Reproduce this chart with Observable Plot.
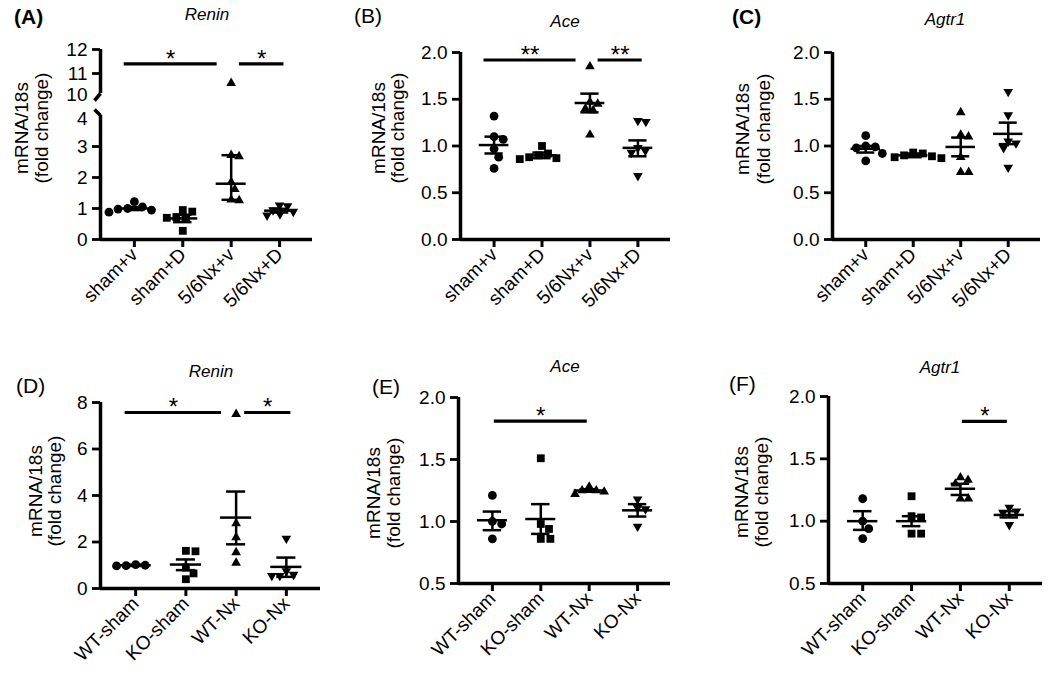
<!DOCTYPE html>
<html><head><meta charset="utf-8">
<script src="https://cdn.jsdelivr.net/npm/d3@7"></script>
<script src="https://cdn.jsdelivr.net/npm/@observablehq/plot@0.6"></script>
<style>
body{margin:0;background:#fff;}
#chart{position:relative;width:1050px;height:677px;overflow:hidden;font-family:"Liberation Sans",Arial,sans-serif;}
.seg{position:absolute;}
#overlay{position:absolute;left:0;top:0;}
</style></head><body><div id="chart"></div>
<script>
// ---------------- DATA ----------------
const groupsTop = ["sham+v", "sham+D", "5/6Nx+v", "5/6Nx+D"];
const groupsBottom = ["WT-sham", "KO-sham", "WT-Nx", "KO-Nx"];

// (A) Renin, 5/6Nx
const reninA_shamV = [1.22, 1.05, 1.0, 0.98, 0.95, 0.88];
const reninA_shamD = [0.95, 0.9, 0.72, 0.7, 0.66, 0.28];
const reninA_nxV   = [10.6, 2.72, 2.68, 1.85, 1.62, 1.28, 1.26];
const reninA_nxD   = [1.1, 1.08, 0.95, 0.9, 0.82, 0.78];
const reninA_center = [1.0, 0.68, 1.8, 0.93];
const reninA_lo     = [0.95, 0.56, 1.28, 0.87];
const reninA_hi     = [1.05, 0.8, 2.72, 0.99];
const reninA_sig    = [[0, 2, 11.4, "*"], [2, 3, 11.4, "*"]];

// (B) Ace, 5/6Nx
const aceB_shamV = [1.32, 1.10, 1.07, 0.97, 0.88, 0.76];
const aceB_shamD = [1.0, 0.92, 0.9, 0.88, 0.87, 0.86];
const aceB_nxV   = [1.85, 1.47, 1.45, 1.40, 1.38, 1.12];
const aceB_nxD   = [1.27, 1.26, 0.98, 0.95, 0.93, 0.68];
const aceB_center = [1.01, 0.9, 1.46, 0.98];
const aceB_lo     = [0.92, 0.87, 1.36, 0.89];
const aceB_hi     = [1.10, 0.93, 1.56, 1.06];
const aceB_sig    = [[0, 2, 1.92, "**"], [2, 3, 1.92, "**"]];

// (C) Agtr1, 5/6Nx
const agtrC_shamV = [1.11, 1.0, 0.99, 0.98, 0.92, 0.84];
const agtrC_shamD = [0.93, 0.92, 0.9, 0.89, 0.88, 0.87];
const agtrC_nxV   = [1.36, 1.12, 1.1, 0.88, 0.72, 0.72];
const agtrC_nxD   = [1.58, 1.33, 1.05, 1.03, 0.98, 0.77];
const agtrC_center = [0.97, 0.9, 0.99, 1.13];
const agtrC_lo     = [0.93, 0.88, 0.89, 1.02];
const agtrC_hi     = [1.0, 0.92, 1.09, 1.25];
const agtrC_sig    = [];

// (D) Renin, KO
const reninD_wtSham = [1.03, 1.0, 0.98, 0.97];
const reninD_koSham = [1.62, 1.6, 0.9, 0.65, 0.4];
const reninD_wtNx   = [7.5, 2.8, 2.2, 1.55, 1.1];
const reninD_koNx   = [2.15, 0.75, 0.6, 0.55, 0.55];
const reninD_center = [1.0, 1.03, 3.05, 0.93];
const reninD_lo     = [0.97, 0.79, 1.9, 0.5];
const reninD_hi     = [1.03, 1.25, 4.17, 1.33];
const reninD_sig    = [[0, 2, 7.57, "*"], [2, 3, 7.57, "*"]];

// (E) Ace, KO
const aceE_wtSham = [1.21, 1.0, 0.98, 0.86];
const aceE_koSham = [1.51, 0.98, 0.94, 0.86, 0.86];
const aceE_wtNx   = [1.28, 1.25, 1.25, 1.24, 1.22];
const aceE_koNx   = [1.18, 1.11, 1.1, 0.96];
const aceE_center = [1.01, 1.02, 1.25, 1.09];
const aceE_lo     = [0.93, 0.9, 1.24, 1.04];
const aceE_hi     = [1.08, 1.14, 1.26, 1.14];
const aceE_sig    = [[0, 2, 1.81, "*"]];

// (F) Agtr1, KO
const agtrF_wtSham = [1.18, 1.0, 0.94, 0.86];
const agtrF_koSham = [1.2, 1.04, 1.03, 0.9, 0.9];
const agtrF_wtNx   = [1.35, 1.33, 1.3, 1.18, 1.18];
const agtrF_koNx   = [1.11, 1.08, 1.07, 0.97];
const agtrF_center = [1.0, 1.0, 1.26, 1.05];
const agtrF_lo     = [0.93, 0.96, 1.21, 1.03];
const agtrF_hi     = [1.08, 1.04, 1.3, 1.08];
const agtrF_sig    = [[2, 3, 1.80, "*"]];

// ---------------- LAYOUT ----------------
const FONT = '"Liberation Sans", Arial, Helvetica, sans-serif';
const XDOM = [-0.7, 3.68];
const sqrt3 = Math.sqrt(3);
const invTriangle = {draw(ctx, size) {
  const y = -Math.sqrt(size / (sqrt3 * 3));
  ctx.moveTo(0, -y * 2); ctx.lineTo(-sqrt3 * y, y); ctx.lineTo(sqrt3 * y, y); ctx.closePath();
}};
const SYMBOLS = [d3.symbolCircle, d3.symbolSquare, d3.symbolTriangle, invTriangle];
const RADII = [4.4, 4.4, 3.6, 3.6];
const f1 = d3.format(".1f"), f0 = d3.format("d");

const panels = [
  {groups: groupsTop, series: [reninA_shamV, reninA_shamD, reninA_nxV, reninA_nxD],
   center: reninA_center, lo: reninA_lo, hi: reninA_hi, sig: reninA_sig, axisX: 100, right: 312, fmt: f0,
   segments: [
     {yDomain: [10, 12], labels: [11, 12], shifted: [10], shift: -3, marks: [11, 12], top: 49, bottom: 97, showX: false, breakBelow: true},
     {yDomain: [0, 4], labels: [0, 1, 2, 3], shifted: [4], shift: 3, marks: [0, 1, 2, 3], top: 115, bottom: 239, showX: true, breakAbove: true}]},
  {groups: groupsTop, series: [aceB_shamV, aceB_shamD, aceB_nxV, aceB_nxD],
   center: aceB_center, lo: aceB_lo, hi: aceB_hi, sig: aceB_sig, axisX: 460, right: 670, fmt: f1,
   segments: [{yDomain: [0, 2], labels: [0, 0.5, 1, 1.5, 2], marks: [0, 0.5, 1, 1.5, 2], top: 52, bottom: 239, showX: true}]},
  {groups: groupsTop, series: [agtrC_shamV, agtrC_shamD, agtrC_nxV, agtrC_nxD],
   center: agtrC_center, lo: agtrC_lo, hi: agtrC_hi, sig: agtrC_sig, axisX: 832, right: 1040, fmt: f1,
   segments: [{yDomain: [0, 2], labels: [0, 0.5, 1, 1.5, 2], marks: [0, 0.5, 1, 1.5, 2], top: 52, bottom: 239, showX: true}]},
  {groups: groupsBottom, series: [reninD_wtSham, reninD_koSham, reninD_wtNx, reninD_koNx],
   center: reninD_center, lo: reninD_lo, hi: reninD_hi, sig: reninD_sig, axisX: 100, right: 320, fmt: f0,
   segments: [{yDomain: [0, 8], labels: [0, 2, 4, 6, 8], marks: [0, 2, 4, 6, 8], top: 402, bottom: 588, showX: true}]},
  {groups: groupsBottom, series: [aceE_wtSham, aceE_koSham, aceE_wtNx, aceE_koNx],
   center: aceE_center, lo: aceE_lo, hi: aceE_hi, sig: aceE_sig, axisX: 458, right: 670, fmt: f1,
   segments: [{yDomain: [0.5, 2], labels: [0.5, 1, 1.5, 2], marks: [0.5, 1, 1.5, 2], top: 397, bottom: 583, showX: true}]},
  {groups: groupsBottom, series: [agtrF_wtSham, agtrF_koSham, agtrF_wtNx, agtrF_koNx],
   center: agtrF_center, lo: agtrF_lo, hi: agtrF_hi, sig: agtrF_sig, axisX: 828, right: 1042, fmt: f1,
   segments: [{yDomain: [0.5, 2], labels: [0.5, 1, 1.5, 2], marks: [0.5, 1, 1.5, 2], top: 396, bottom: 583, showX: true}]}
];

const chart = document.getElementById("chart");

function drawSegment(p, s) {
  const mL = 70, mR = 8, mT = 30, mB = s.showX ? 100 : 10;
  const fw = p.right - p.axisX, fh = s.bottom - s.top;
  const pxX = fw / (XDOM[1] - XDOM[0]);
  const [y0, y1] = s.yDomain;
  const pxY = fh / (y1 - y0);
  const inDom = v => v >= y0 && v <= y1;
  const dotMarks = p.series.map((vals, gi) => {
    const placed = [], pts = [];
    const D = 2 * RADII[gi] + 0.8;
    vals.filter(inDom).forEach(v => {
      const py = v * pxY;
      const cands = [0];
      for (const q of placed) {
        const dy = py - q.py;
        if (Math.abs(dy) < D) { const w = Math.sqrt(D * D - dy * dy); cands.push(q.px + w, q.px - w); }
      }
      cands.sort((a, b) => Math.abs(a) - Math.abs(b));
      const px = cands.find(c => placed.every(q => (c - q.px) ** 2 + (py - q.py) ** 2 >= D * D - 1e-6));
      placed.push({px, py});
      pts.push({x: gi + px / pxX, v});
    });
    return Plot.dot(pts, {x: "x", y: "v", r: RADII[gi], symbol: SYMBOLS[gi], fill: "black", stroke: "none"});
  });
  const summary = p.groups.map((g, i) => ({g: i, c: p.center[i], lo: p.lo[i], hi: p.hi[i]}))
    .filter(d => inDom(d.lo) && inDom(d.hi));
  const comps = p.sig.map(([a, b, y, label]) => {
    let c = (a + b) / 2;
    const half = (b - a) / 2 - 0.04;
    if (p.sig.some(o => o[0] === b)) c -= 0.25;
    if (p.sig.some(o => o[1] === a)) c += 0.13;
    return {x1: c - half, x2: c + half, xc: c, y, label};
  }).filter(d => inDom(d.y));
  const MEAN = 0.31, CAP = 0.19;
  const marks = [];
  // y axis line
  marks.push(Plot.ruleX([XDOM[0]], {y1: s.breakBelow ? y0 + 4 / pxY : y0, y2: y1, strokeWidth: 3.5}));
  if (s.breakBelow) marks.push(Plot.link([0], {x1: XDOM[0], y1: y0 + 4 / pxY, x2: XDOM[0] - 6 / pxX, y2: y0 - 3 / pxY, strokeWidth: 3.5}));
  if (s.breakAbove) marks.push(Plot.link([0], {x1: XDOM[0] - 6 / pxX, y1: y1 + 6 / pxY, x2: XDOM[0], y2: y1, strokeWidth: 3.5}));
  marks.push(Plot.axisY({ticks: s.labels, tickFormat: p.fmt, tickSize: 0, tickPadding: 13, fontSize: 19, label: null}));
  if (s.shifted) marks.push(Plot.axisY({ticks: s.shifted, tickFormat: p.fmt, tickSize: 0, tickPadding: 13, fontSize: 19, dy: s.shift, label: null}));
  marks.push(Plot.axisY({ticks: s.marks, tickFormat: () => "", tickSize: 8, strokeWidth: 2.8, label: null}));
  if (s.showX) {
    marks.push(Plot.ruleY([y0], {x1: XDOM[0], x2: XDOM[1], strokeWidth: 3.5}));
    marks.push(Plot.axisX({ticks: [0, 1, 2, 3], tickFormat: i => p.groups[i], tickSize: 8, tickPadding: 4,
      tickRotate: -45, fontSize: 19, strokeWidth: 3, label: null}));
  }
  marks.push(...dotMarks);
  marks.push(Plot.ruleX(summary, {x: "g", y1: "lo", y2: "hi", strokeWidth: 2.5}));
  marks.push(Plot.ruleY(summary, {y: "c", x1: d => d.g - MEAN, x2: d => d.g + MEAN, strokeWidth: 2.5}));
  marks.push(Plot.ruleY(summary, {y: "lo", x1: d => d.g - CAP, x2: d => d.g + CAP, strokeWidth: 2.5}));
  marks.push(Plot.ruleY(summary, {y: "hi", x1: d => d.g - CAP, x2: d => d.g + CAP, strokeWidth: 2.5}));
  marks.push(Plot.ruleY(comps, {y: "y", x1: "x1", x2: "x2", strokeWidth: 3.2}));
  marks.push(Plot.text(comps, {x: "xc", y: "y", text: "label", fontSize: 24, dy: -5, lineAnchor: "middle"}));

  const svg = Plot.plot({
    width: mL + fw + mR, height: mT + fh + mB,
    marginLeft: mL, marginRight: mR, marginTop: mT, marginBottom: mB,
    x: {domain: XDOM, axis: null}, y: {domain: s.yDomain, axis: null},
    style: {fontFamily: FONT, color: "black", background: "transparent", overflow: "visible"},
    marks
  });
  const div = document.createElement("div");
  div.className = "seg";
  div.style.left = (p.axisX - mL) + "px";
  div.style.top = (s.top - mT) + "px";
  div.appendChild(svg);
  chart.appendChild(div);
}

panels.forEach(p => p.segments.forEach(s => drawSegment(p, s)));

// ---------------- TEXT OVERLAY ----------------
const panelLetters = ["(A)", "(B)", "(C)", "(D)", "(E)", "(F)"];
const geneTitles = ["Renin", "Ace", "Agtr1", "Renin", "Ace", "Agtr1"];
const yTitle = ["mRNA/18s", "(fold change)"];

const letterPos = [[14, 24, 700], [354, 23, 400], [732, 24, 700], [16, 393, 400], [372, 394, 400], [729, 391, 400]];
const titlePos = [[207, 20], [565, 27], [945, 25], [211, 377], [565, 372], [940, 373]];
const yTitlePos = [[21, 41, 128], [378, 397, 128], [742, 763, 129], [35, 54, 491], [373, 393, 493], [741, 761, 492]];

const ov = d3.select("#chart").append("svg").attr("id", "overlay").attr("width", 1050).attr("height", 677)
  .style("font-family", FONT);
panelLetters.forEach((t, i) => {
  ov.append("text").attr("x", letterPos[i][0]).attr("y", letterPos[i][1])
    .attr("font-size", 21).attr("font-weight", letterPos[i][2]).text(t);
});
geneTitles.forEach((t, i) => {
  ov.append("text").attr("x", titlePos[i][0]).attr("y", titlePos[i][1]).attr("text-anchor", "middle")
    .attr("font-size", 17).attr("font-style", "italic").text(t);
});
yTitlePos.forEach(([xa, xb, cy]) => {
  [xa, xb].forEach((cx, j) => {
    ov.append("text").attr("transform", `translate(${cx},${cy}) rotate(-90)`)
      .attr("text-anchor", "middle").attr("dominant-baseline", "central")
      .attr("font-size", 19).text(yTitle[j]);
  });
});
</script></body></html>
